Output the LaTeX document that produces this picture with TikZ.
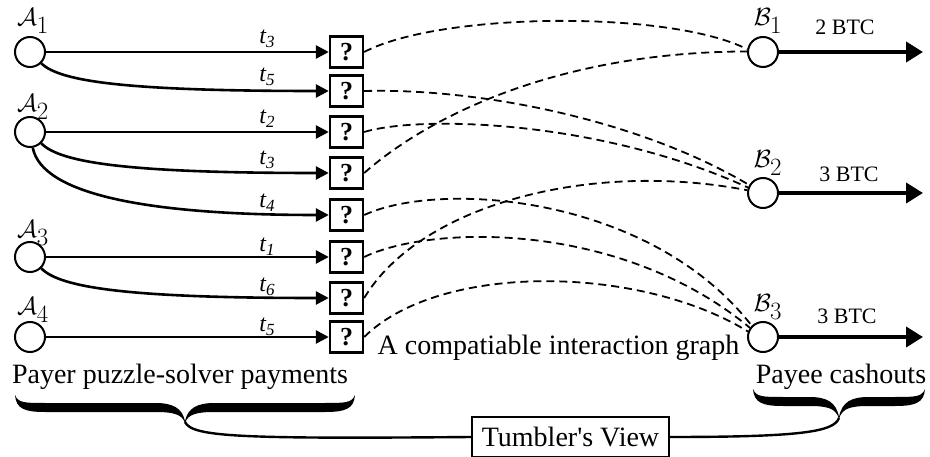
\documentclass[tikz,border=0pt]{standalone}
\usepackage{fontspec}
\setmainfont{Liberation Serif}
\usetikzlibrary{arrows.meta}
\newcommand\fancybrace[5]{%
 \pgfmathsetmacro\bxm{(#1+#2)/2}%
 \fill ({#1},{#3}) .. controls ({#1+3},{#4-4}) and ({#1+10},{#4-4}) .. ({#1+30},{#4-4})
   -- ({\bxm-30},{#4-4}) .. controls ({\bxm-12},{#4-4}) and ({\bxm-3},{#4+1}) .. ({\bxm},{#5})
   .. controls ({\bxm+3},{#4+1}) and ({\bxm+12},{#4-4}) .. ({\bxm+30},{#4-4})
   -- ({#2-30},{#4-4}) .. controls ({#2-10},{#4-4}) and ({#2-3},{#4-4}) .. ({#2},{#3})
   .. controls ({#2-1},{#4+2}) and ({#2-10},{#4+5}) .. ({#2-30},{#4+5})
   -- ({\bxm+30},{#4+5}) .. controls ({\bxm+12},{#4+5}) and ({\bxm+3},{#4+7}) .. ({\bxm},{#5+2})
   .. controls ({\bxm-3},{#4+7}) and ({\bxm-12},{#4+5}) .. ({\bxm-30},{#4+5})
   -- ({#1+30},{#4+5}) .. controls ({#1+10},{#4+5}) and ({#1+1},{#4+2}) .. ({#1},{#3}) -- cycle;}
\newcommand\tlab[1]{{\fontsize{24}{26}\selectfont\itshape t\raisebox{-0.35ex}{\fontsize{17}{17}\selectfont #1}}}
\begin{document}
\begin{tikzpicture}[x=1pt,y=-1pt,
  circ/.style={circle,draw,line width=2pt,minimum size=30pt,inner sep=0pt,fill=white},
  qbox/.style={draw,line width=2.4pt,minimum width=33pt,minimum height=31pt,inner sep=0pt,
    font=\fontsize{26}{26}\selectfont\bfseries},
  lab/.style={inner sep=0pt,font=\fontsize{36}{38}\selectfont},
  tl/.style={inner sep=0pt},
  btc/.style={inner sep=0pt,font=\fontsize{22}{24}\selectfont},
  txt/.style={inner sep=0pt,font=\fontsize{28}{32}\selectfont},
  pay/.style={line width=2.6pt,-{Triangle[length=13pt,width=13pt]}},
  cash/.style={line width=4pt,-{Triangle[length=17pt,width=20pt]}},
  dl/.style={line width=1.8pt,dash pattern=on 8pt off 5pt},
  conn/.style={line width=2.4pt}]
\useasboundingbox (0,0) rectangle (930,457);
% payers
\node[circ] (A1) at (30,52) {};
\node[circ] (A2) at (30,132) {};
\node[circ] (A3) at (30,257) {};
\node[circ] (A4) at (30,337) {};
\node[lab] (LA1) at (33,21) {$\mathcal{A}_1$};
\node[lab] (LA2) at (33,107) {$\mathcal{A}_2$};
\node[lab] (LA3) at (33,233) {$\mathcal{A}_3$};
\node[lab] (LA4) at (33,310) {$\mathcal{A}_4$};
% puzzle boxes
\foreach \i/\y in {1/52,2/91,3/132,4/173,5/215,6/257,7/298,8/337}
  \node[qbox] (q\i) at (346.5,\y) {?};
% payees
\node[circ] (B1) at (763,52) {};
\node[circ] (B2) at (763,193) {};
\node[circ] (B3) at (763,337) {};
\node[lab] (LB1) at (768,21) {$\mathcal{B}_1$};
\node[lab] (LB2) at (768,163) {$\mathcal{B}_2$};
\node[lab] (LB3) at (768,307) {$\mathcal{B}_3$};
\coordinate (e1) at (923,52);
\coordinate (e2) at (923,193);
\coordinate (e3) at (923,337);
\draw[cash] (B1) -- (e1);
\draw[cash] (B2) -- (e2);
\draw[cash] (B3) -- (e3);
\node[btc] (v1) at (845,27) {2 BTC};
\node[btc] (v2) at (849,174) {3 BTC};
\node[btc] (v3) at (847,316) {3 BTC};
% payments
\draw[pay] (A1) -- (q1);
\draw[pay] (A1.-45) .. controls (60,82) and (130,91) .. (q2.west);
\draw[pay] (A2) -- (q3);
\draw[pay] (A2.-45) .. controls (60,163) and (130,173) .. (q4.west);
\draw[pay] (A2.-80) .. controls (42,195) and (150,215) .. (q5.west);
\draw[pay] (A3) -- (q6);
\draw[pay] (A3.-45) .. controls (60,288) and (130,298) .. (q7.west);
\draw[pay] (A4) -- (q8);
\node[tl] (t1) at (267,39) {\tlab{3}};
\node[tl] (t2) at (267,77) {\tlab{5}};
\node[tl] (t3) at (267,119) {\tlab{2}};
\node[tl] (t4) at (267,160) {\tlab{3}};
\node[tl] (t5) at (267,203) {\tlab{4}};
\node[tl] (t6) at (267,247) {\tlab{1}};
\node[tl] (t7) at (267,287) {\tlab{6}};
\node[tl] (t8) at (267,327) {\tlab{5}};
% interaction graph
\draw[dl] (q1.east) .. controls (440,12) and (670,10) .. (B1.170);
\draw[dl] (q2.east) .. controls (480,88) and (640,120) .. (B2.150);
\draw[dl] (q3.east) .. controls (420,115) and (600,120) .. (B2.160);
\draw[dl] (q4.east) .. controls (430,115) and (560,52) .. (B1.178);
\draw[dl] (q5.east) .. controls (440,180) and (650,195) .. (B3.135);
\draw[dl] (q6.east) .. controls (430,225) and (620,220) .. (B3.145);
\draw[dl] (q7.east) .. controls (420,205) and (590,160) .. (B2.170);
\draw[dl] (q8.east) .. controls (440,262) and (640,265) .. (B3.160);
% texts
\node[txt,anchor=base] (cg) at (558.5,355) {A compatiable interaction graph};
\node[txt,anchor=base] (payer) at (180,383) {Payer puzzle-solver payments};
\node[txt,anchor=base] (payee) at (841,383) {Payee cashouts};
% braces and tumbler view
\fancybrace{15}{355}{395}{407}{421}
\fancybrace{753}{925}{389}{401}{417}
\coordinate (lt) at (185,422);
\coordinate (rt) at (839,418);
\node[draw,line width=1.2pt,txt,minimum width=197pt,minimum height=40pt] (tv) at (570.5,437) {Tumbler\textquotesingle s View};
\draw[conn] (lt) .. controls (192,437) and (240,439) .. (tv.west);
\draw[conn] (rt) .. controls (834,432) and (800,437) .. (tv.east);
\end{tikzpicture}
\end{document}
